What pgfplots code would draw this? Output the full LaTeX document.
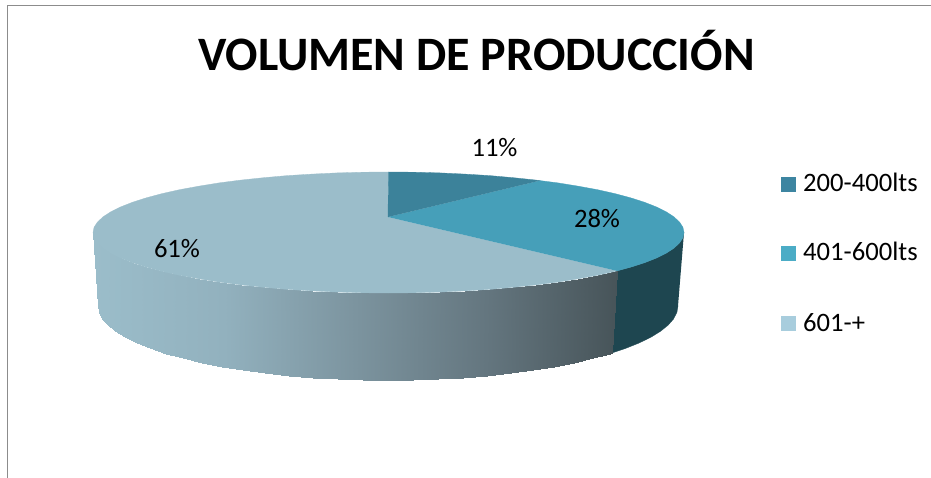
\documentclass[border=0pt]{standalone}
\usepackage{fontspec}
\setmainfont{Carlito}
\usepackage{pgfplots}
\pgfplotsset{compat=1.18}
\definecolor{cA}{HTML}{3C829A}
\definecolor{cB}{HTML}{469FB9}
\definecolor{cC}{HTML}{9BBDCA}
\definecolor{cD}{HTML}{1E4650}
\definecolor{lA}{HTML}{3D85A1}
\definecolor{lB}{HTML}{4BACC6}
\definecolor{lC}{HTML}{A8CDDD}
\definecolor{fr}{HTML}{8C8C8C}
\begin{document}
\begin{tikzpicture}
\path[use as bounding box] (0,0) rectangle (931pt,478pt);
\begin{axis}[
  at={(0,0)},anchor=south west,
  width=931pt,height=478pt,scale only axis,
  xmin=0,xmax=931,ymin=0,ymax=478,y dir=reverse,
  axis lines=none,clip=true,
  colormap={side}{rgb255=(155,189,202) rgb255=(146,177,190) rgb255=(124,148,159) rgb255=(100,118,127) rgb255=(71,84,89)},
  point meta min=93,point meta max=617,
]
% frame
\addplot[fr,line width=1.5pt] coordinates {(7.5,478) (7.5,5.6) (931,5.6)};
% dark side of 401-600
\addplot[fill=cD,draw=cD,line width=.3pt] coordinates {
(684,232.5)(682.9,237.8)(679.5,243)(673.9,248.2)(666.2,253.2)(656.3,258.1)(644.4,262.8)(630.6,267.2)(617,270.9)
(612.3,352.9)(625.6,348.4)(639.1,343)(650.8,337.3)(660.5,331.3)(668.1,325.2)(673.6,318.9)(676.9,312.4)(678,306)};
% front of 601-+
\addplot[surf,shader=interp,mesh/cols=2,point meta=explicit] table[meta=c] {
x y c
617 270.9 617
612.3 352.9 612.3
614.9 271.4 614.9
610.2 353.6 610.2
597.5 275.3 597.5
593.1 358.3 593.1
578.4 278.8 578.4
574.4 362.7 574.4
558 282.1 558
554.3 366.6 554.3
536.3 284.9 536.3
533 370.1 533
513.4 287.3 513.4
510.6 373.1 510.6
489.6 289.4 489.6
487.2 375.5 487.2
465 290.9 465
463.1 377.5 463.1
439.8 292.1 439.8
438.4 378.9 438.4
414.3 292.8 414.3
413.3 379.7 413.3
388.5 293 388.5
388 380 388
362.7 292.8 362.7
362.7 379.7 362.7
337.2 292.1 337.2
337.6 378.9 337.6
312 290.9 312
312.9 377.5 312.9
287.4 289.4 287.4
288.8 375.5 288.8
263.6 287.3 263.6
265.4 373.1 265.4
240.7 284.9 240.7
243 370.1 243
219 282.1 219
221.7 366.6 221.7
198.6 278.8 198.6
201.6 362.7 201.6
179.5 275.3 179.5
182.9 358.3 182.9
162.1 271.4 162.1
165.8 353.6 165.8
146.4 267.2 146.4
150.4 348.4 150.4
132.6 262.8 132.6
136.9 343 136.9
120.7 258.1 120.7
125.2 337.3 125.2
110.8 253.2 110.8
115.5 331.3 115.5
103.1 248.2 103.1
107.9 325.2 107.9
97.5 243 97.5
102.4 318.9 102.4
94.1 237.8 94.1
99.1 312.4 99.1
93 232.5 93
98 306 98
};
% top faces
\addplot[fill=cC,draw=cC,line width=.3pt] coordinates {
(388,217)(617,270.9)(614.9,271.4)(597.5,275.3)(578.4,278.8)(558,282.1)(536.3,284.9)(513.4,287.3)(489.6,289.4)(465,290.9)(439.8,292.1)(414.3,292.8)(388.5,293)(362.7,292.8)(337.2,292.1)(312,290.9)(287.4,289.4)(263.6,287.3)(240.7,284.9)(219,282.1)(198.6,278.8)(179.5,275.3)(162.1,271.4)(146.4,267.2)(132.6,262.8)(120.7,258.1)(110.8,253.2)(103.1,248.2)(97.5,243)(94.1,237.8)(93,232.5)(94.1,227.2)(97.5,222)(103.1,216.8)(110.8,211.8)(120.7,206.9)(132.6,202.2)(146.4,197.8)(162.1,193.6)(179.5,189.7)(198.6,186.2)(219,182.9)(240.7,180.1)(263.6,177.7)(287.4,175.6)(312,174.1)(337.2,172.9)(362.7,172.2)(388.5,172)};
\addplot[fill=cB,draw=cB,line width=.3pt] coordinates {
(388,217)(540,180.6)(558,182.9)(578.4,186.2)(597.5,189.7)(614.9,193.6)(630.6,197.8)(644.4,202.2)(656.3,206.9)(666.2,211.8)(673.9,216.8)(679.5,222)(682.9,227.2)(684,232.5)(682.9,237.8)(679.5,243)(673.9,248.2)(666.2,253.2)(656.3,258.1)(644.4,262.8)(630.6,267.2)(617,270.9)};
\addplot[fill=cA,draw=cA,line width=.3pt] coordinates {
(388,217)(388.5,172)(414.3,172.2)(439.8,172.9)(465,174.1)(489.6,175.6)(513.4,177.7)(536.3,180.1)(540,180.6)};
% legend keys
\addplot[fill=lA,draw=none] coordinates {(781,177)(796,177)(796,192)(781,192)};
\addplot[fill=lB,draw=none] coordinates {(781,246)(796,246)(796,261)(781,261)};
\addplot[fill=lC,draw=none] coordinates {(781,316)(796,316)(796,331)(781,331)};
% text
\node[anchor=base,inner sep=0pt] at (axis cs:476.5,71) {\fontsize{48}{52}\selectfont\bfseries VOLUMEN DE PRODUCCIÓN};
\node[anchor=base,inner sep=0pt] at (axis cs:494.5,157) {\fontsize{26.6}{30}\selectfont 11\%};
\node[anchor=base,inner sep=0pt] at (axis cs:597,228) {\fontsize{26.6}{30}\selectfont 28\%};
\node[anchor=base,inner sep=0pt] at (axis cs:177,258) {\fontsize{26.6}{30}\selectfont 61\%};
\node[anchor=base west,inner sep=0pt] at (axis cs:803,192) {\fontsize{26.6}{30}\selectfont 200-400lts};
\node[anchor=base west,inner sep=0pt] at (axis cs:803,261) {\fontsize{26.6}{30}\selectfont 401-600lts};
\node[anchor=base west,inner sep=0pt] at (axis cs:803,331) {\fontsize{26.6}{30}\selectfont 601-+};
\end{axis}
\end{tikzpicture}
\end{document}
